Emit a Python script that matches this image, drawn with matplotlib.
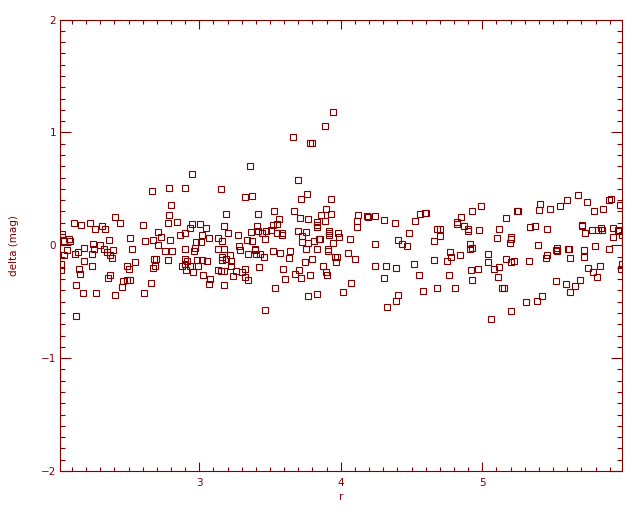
import matplotlib
matplotlib.use("Agg")
import matplotlib.pyplot as plt
from matplotlib.ticker import MultipleLocator

# ---- data (r, delta mag) ----
r_left = [2.946, 2.783, 2.896, 3.150, 2.663, 3.320, 2.797, 3.186, 2.783, 2.401,
          2.840, 2.112, 2.161, 2.225, 2.437, 2.599, 2.776, 2.946, 3.002, 3.172,
          2.260, 2.310, 2.331, 3.044, 2.931, 2.705, 2.896, 2.861, 3.200, 3.271,
          2.027, 3.016, 3.066, 3.129, 2.726, 2.790, 2.507, 2.359, 2.620, 2.670,
          2.076, 2.041, 2.090, 3.009, 2.974, 3.158, 3.334, 2.705, 2.246, 2.295,
          2.182, 2.253, 2.522, 2.896, 2.967, 3.129, 3.172, 3.278, 3.285, 2.062,
          2.324, 2.387, 2.755, 2.804, 2.960, 2.345, 2.119, 2.140, 2.041, 2.239,
          2.366, 2.380, 3.214, 3.341, 3.158, 2.182, 2.543, 2.776, 2.677, 2.691,
          2.896, 2.910, 2.981, 3.016, 3.052, 3.186, 3.221, 3.158, 2.020, 2.239,
          2.486, 2.500, 2.684, 2.670, 2.875, 2.896, 2.931, 2.988, 2.903, 2.953,
          3.221, 3.320, 3.129, 3.150, 3.172, 3.256, 3.299, 2.020, 2.147, 2.154,
          2.366, 2.352, 3.023, 3.073, 3.235, 3.320, 3.341, 2.458, 2.486, 2.507,
          2.451, 2.656, 2.126, 3.066, 3.172, 2.175, 2.267, 2.401, 2.606, 2.126]
d_left = [0.63, 0.51, 0.51, 0.50, 0.48, 0.43, 0.36, 0.28, 0.27, 0.25,
          0.21, 0.20, 0.18, 0.20, 0.20, 0.18, 0.20, 0.19, 0.19, 0.17,
          0.14, 0.17, 0.14, 0.15, 0.15, 0.12, 0.11, 0.09, 0.11, 0.09,
          0.10, 0.09, 0.06, 0.06, 0.07, 0.05, 0.06, 0.045, 0.035, 0.045,
          0.055, 0.035, 0.035, 0.025, 0.025, 0.035, 0.045, 0.00, 0.01, 0.00,
          -0.02, -0.03, -0.03, -0.03, -0.02, -0.03, -0.03, -0.01, -0.045, -0.045,
          -0.035, -0.045, -0.055, -0.055, -0.055, -0.06, -0.08, -0.06, -0.09, -0.08,
          -0.09, -0.115, -0.09, -0.08, -0.105, -0.14, -0.15, -0.13, -0.125, -0.125,
          -0.125, -0.14, -0.13, -0.13, -0.14, -0.125, -0.14, -0.13, -0.17, -0.18,
          -0.18, -0.21, -0.185, -0.205, -0.185, -0.17, -0.185, -0.185, -0.22, -0.24,
          -0.185, -0.21, -0.22, -0.23, -0.23, -0.23, -0.24, -0.22, -0.21, -0.255,
          -0.265, -0.29, -0.265, -0.30, -0.275, -0.28, -0.31, -0.32, -0.31, -0.31,
          -0.37, -0.335, -0.355, -0.345, -0.355, -0.425, -0.425, -0.44, -0.425, -0.63]

r_mid = [3.942, 3.885, 3.659, 3.779, 3.794, 3.355,
         3.695, 3.758, 3.716, 3.928, 3.370, 3.893, 3.525, 3.666, 3.412, 3.857,
         3.928, 4.119, 4.189, 4.182, 4.239, 4.557, 4.592, 4.599, 3.560, 3.709,
         3.765, 3.885, 3.829, 3.829, 3.829, 4.112, 4.112, 4.302, 4.380, 4.521,
         3.546, 3.518, 3.405, 3.504, 3.469, 3.363, 3.412, 3.440, 3.546, 3.582,
         3.582, 3.695, 3.751, 3.914, 3.914, 3.914, 3.977, 3.984, 4.479, 3.461,
         3.370, 3.723, 3.723, 3.765, 3.808, 3.843, 3.850, 3.942, 4.062, 4.239,
         4.401, 4.430, 4.465, 3.391, 3.391, 3.398, 3.426, 3.454, 3.518, 3.567,
         3.638, 3.631, 3.751, 3.829, 3.907, 3.907, 4.048, 3.744, 3.794, 3.956,
         3.970, 3.963, 4.097, 4.514, 3.419, 3.589, 3.702, 3.871, 3.893, 3.900,
         3.673, 3.716, 3.779, 3.603, 4.239, 4.317, 4.387, 4.302, 4.550, 4.069,
         3.532, 3.765, 3.829, 4.013, 4.578, 4.401, 4.387, 4.324, 3.461]
d_mid = [1.18, 1.055, 0.96, 0.905, 0.91, 0.70,
         0.58, 0.455, 0.41, 0.41, 0.435, 0.32, 0.30, 0.30, 0.275, 0.27,
         0.275, 0.27, 0.25, 0.26, 0.26, 0.275, 0.285, 0.285, 0.23, 0.24,
         0.23, 0.215, 0.205, 0.18, 0.16, 0.215, 0.16, 0.22, 0.20, 0.215,
         0.19, 0.18, 0.17, 0.135, 0.125, 0.115, 0.125, 0.11, 0.11, 0.11,
         0.09, 0.125, 0.115, 0.125, 0.11, 0.09, 0.11, 0.07, 0.11, 0.055,
         0.035, 0.08, 0.025, 0.02, 0.035, 0.055, 0.055, 0.02, 0.055, 0.01,
         0.045, 0.01, -0.01, -0.03, -0.045, -0.08, -0.08, -0.105, -0.055, -0.07,
         -0.055, -0.115, -0.03, -0.035, -0.03, -0.055, -0.07, -0.15, -0.125, -0.10,
         -0.10, -0.15, -0.125, -0.17, -0.195, -0.21, -0.22, -0.185, -0.24, -0.265,
         -0.255, -0.29, -0.265, -0.30, -0.185, -0.185, -0.205, -0.29, -0.265, -0.335,
         -0.38, -0.45, -0.435, -0.415, -0.405, -0.44, -0.495, -0.55, -0.575]

r_right = [5.673, 5.893, 5.907, 5.405, 5.596, 5.737, 4.988, 5.546, 4.924, 5.242,
           5.249, 5.398, 5.475, 5.786, 5.850, 5.970, 4.847, 5.165, 4.818, 4.818,
           4.868, 4.896, 4.896, 4.974, 5.115, 5.334, 5.370, 5.454, 5.702, 5.702,
           5.723, 5.772, 5.815, 5.836, 5.843, 5.921, 5.956, 5.963, 5.984, 5.921,
           4.677, 4.698, 4.698, 4.656, 5.101, 5.200, 5.200, 5.193, 4.910, 4.924,
           4.910, 5.391, 5.525, 5.518, 5.525, 5.603, 5.610, 5.716, 5.793, 5.893,
           4.769, 4.776, 4.840, 5.037, 5.037, 5.454, 5.447, 5.617, 5.716, 4.748,
           4.656, 5.165, 5.200, 5.221, 5.327, 5.080, 5.115, 4.967, 4.917, 4.762,
           5.108, 4.924, 4.677, 4.804, 5.136, 5.150, 5.518, 5.744, 5.779, 5.829,
           5.808, 5.984, 5.688, 5.652, 5.589, 5.617, 5.419, 5.384, 5.306, 5.200,
           5.059, 5.977]
d_right = [0.445, 0.40, 0.41, 0.365, 0.40, 0.385, 0.35, 0.35, 0.30, 0.30,
           0.30, 0.31, 0.32, 0.30, 0.32, 0.355, 0.25, 0.24, 0.205, 0.19,
           0.17, 0.14, 0.125, 0.135, 0.14, 0.16, 0.17, 0.14, 0.18, 0.17,
           0.11, 0.135, 0.135, 0.15, 0.135, 0.15, 0.135, 0.125, 0.09, 0.07,
           0.14, 0.14, 0.08, 0.035, 0.06, 0.07, 0.055, 0.02, 0.01, -0.02,
           -0.035, 0.0, -0.02, -0.045, -0.055, -0.03, -0.035, -0.045, -0.01, -0.035,
           -0.06, -0.105, -0.09, -0.08, -0.15, -0.09, -0.115, -0.115, -0.10, -0.14,
           -0.13, -0.125, -0.15, -0.14, -0.14, -0.21, -0.195, -0.21, -0.22, -0.265,
           -0.285, -0.31, -0.375, -0.375, -0.38, -0.375, -0.32, -0.205, -0.24, -0.185,
           -0.285, -0.17, -0.31, -0.365, -0.345, -0.41, -0.45, -0.49, -0.505, -0.585,
           -0.655, -0.21]

r_all = r_left + r_mid + r_right
d_all = d_left + d_mid + d_right

x_range = (2.018, 5.989)
y_range = (-2.0, 2.0)
x_label = "r"
y_label = "delta (mag)"

col = "#800000"

fig = plt.figure(figsize=(6.4, 5.12), dpi=100)
ax = fig.add_axes([60.3 / 640, 41 / 512, 562 / 640, 451.5 / 512])

ax.plot(r_all, d_all, linestyle="none", marker="s", markersize=4.4,
        markerfacecolor="none", markeredgecolor=col, markeredgewidth=0.8)

ax.set_xlim(*x_range)
ax.set_ylim(*y_range)

ax.xaxis.set_major_locator(MultipleLocator(1))
ax.xaxis.set_minor_locator(MultipleLocator(0.1))
ax.yaxis.set_major_locator(MultipleLocator(1))
ax.yaxis.set_minor_locator(MultipleLocator(0.1))

for s in ax.spines.values():
    s.set_color(col)
    s.set_linewidth(0.8)

ax.tick_params(axis="both", which="both", direction="in", colors=col,
               top=True, right=True, width=0.8, labelsize=7.5)
ax.tick_params(axis="x", which="major", length=6.5, pad=5)
ax.tick_params(axis="x", which="minor", length=3.2)
ax.tick_params(axis="y", which="major", length=8, pad=3)
ax.tick_params(axis="y", which="minor", length=3.6)

ax.set_xlabel(x_label, color=col, fontsize=7.5, labelpad=3)
ax.set_ylabel(y_label, color=col, fontsize=7.5, labelpad=16)

fig.savefig("out.png", dpi=100)
